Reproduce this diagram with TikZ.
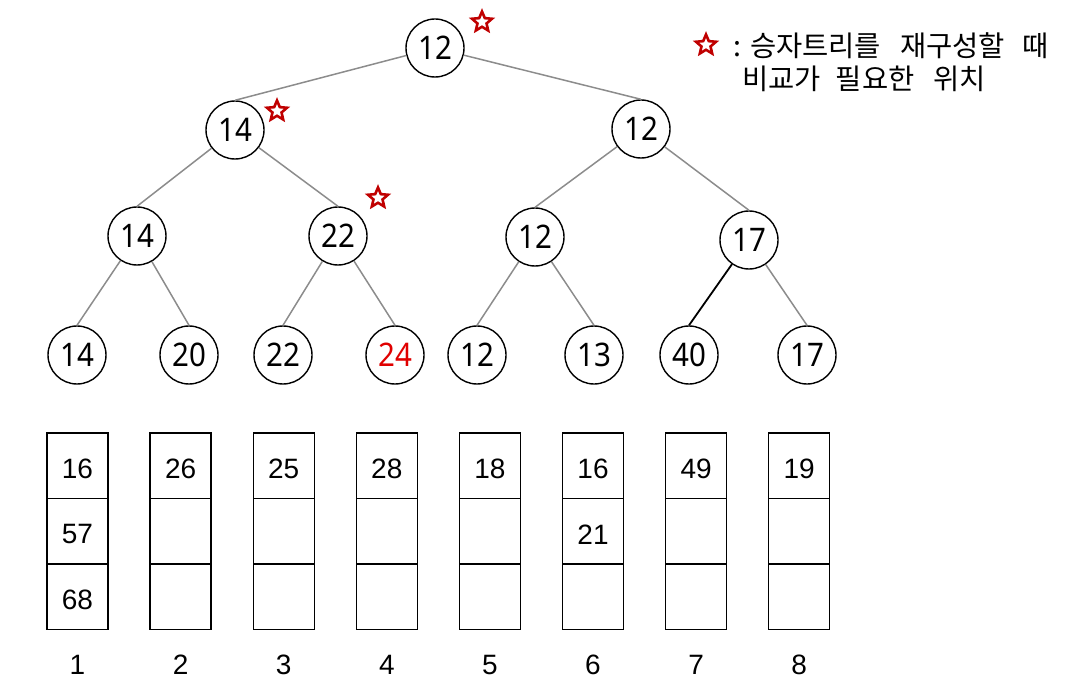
\documentclass[tikz,border=0pt]{standalone}
\usepackage{fontspec}
\usepackage{graphicx}
\usetikzlibrary{shapes.geometric}
\newfontfamily\circfont{Noto Sans}
\newfontfamily\boxfont{Liberation Sans}
\newfontfamily\krfont{Noto Sans CJK KR}
\definecolor{edgegray}{HTML}{8C8C8C}
\definecolor{starred}{HTML}{C00000}
\definecolor{numred}{HTML}{E00000}
\newcommand{\tallnum}[1]{\scalebox{1}[1.1]{#1}}
\begin{document}
\begin{tikzpicture}[x=1pt,y=-1pt,
  tnode/.style={circle,draw=black,line width=1.4pt,minimum size=58pt,inner sep=0pt,
    font=\circfont\fontsize{29.5}{30}\selectfont},
  tedge/.style={draw=edgegray,line width=1.5pt},
  dedge/.style={draw=black,line width=1.8pt},
  mark star/.style={star,star points=5,star point ratio=2.2,draw=starred,fill=white,
    line width=2.6pt,minimum size=21pt,inner sep=0pt},
  cell/.style={draw=black,line width=1.3pt,minimum width=61pt,minimum height=65.5pt,inner sep=0pt,
    font=\boxfont\fontsize{28}{29}\selectfont},
  celltext/.style={inner sep=0pt,font=\boxfont\fontsize{28}{29}\selectfont},
  idx/.style={font=\boxfont\fontsize{28}{29}\selectfont},
  legend/.style={anchor=west,inner sep=0pt,font=\krfont\fontsize{28.5}{30}\selectfont}]
\useasboundingbox (0,0) rectangle (1072,690);
% tree nodes
\node[tnode] (r) at (435,48) {\tallnum{12}};
\node[tnode] (a) at (235,130) {\tallnum{14}};
\node[tnode] (b) at (641,129) {\tallnum{12}};
\node[tnode] (c) at (137,236) {\tallnum{14}};
\node[tnode] (d) at (338,236) {\tallnum{22}};
\node[tnode] (e) at (535,237) {\tallnum{12}};
\node[tnode] (f) at (749,240) {\tallnum{17}};
\node[tnode] (l1) at (77,355) {\tallnum{14}};
\node[tnode] (l2) at (189,355) {\tallnum{20}};
\node[tnode] (l3) at (283,355) {\tallnum{22}};
\node[tnode,text=numred] (l4) at (395,355) {\tallnum{24}};
\node[tnode] (l5) at (477,355) {\tallnum{12}};
\node[tnode] (l6) at (594,355) {\tallnum{13}};
\node[tnode] (l7) at (689,355) {\tallnum{40}};
\node[tnode] (l8) at (807,355) {\tallnum{17}};
% edges
\draw[tedge] (r) -- (a.north);
\draw[tedge] (r) -- (b.north);
\draw[tedge] (a) -- (c.north);
\draw[tedge] (a) -- (d.north);
\draw[tedge] (b) -- (e.north);
\draw[tedge] (b) -- (f.north);
\draw[tedge] (c) -- (l1.north);
\draw[tedge] (c) -- (l2.north);
\draw[tedge] (d) -- (l3.north);
\draw[tedge] (d) -- (l4.north);
\draw[tedge] (e) -- (l5.north);
\draw[tedge] (e) -- (l6.north);
\draw[dedge] (f) -- (l7.north);
\draw[tedge] (f) -- (l8.north);
% stars
\node[mark star] (s1) at (482,22) {};
\node[mark star] (s2) at (277,111) {};
\node[mark star] (s3) at (378,198) {};
% legend
\node[mark star] (s0) at (706,45) {};
\node[legend] (leg1) at (733,46) {:\hspace{9pt}승자트리를\hspace{19pt}재구성할\hspace{17pt}때};
\node[legend] (leg2) at (742,79) {비교가\hspace{15pt}필요한\hspace{19pt}위치};
% buckets
\foreach \i/\ta/\tb/\tc in {1/16/57/68,2/26//,3/25//,4/28//,5/18//,6/16/21/,7/49//,8/19//}{
  \pgfmathsetmacro{\cx}{77.5+103.1*(\i-1)}
  \node[cell] (b\i a) at (\cx,465.75) {};
  \node[cell] (b\i b) at (\cx,531.25) {};
  \node[cell] (b\i c) at (\cx,596.75) {};
  \node[celltext] at ([yshift=-3pt]b\i a.center) {\ta};
  \node[celltext] at ([yshift=-3pt]b\i b.center) {\tb};
  \node[celltext] at ([yshift=-3pt]b\i c.center) {\tc};
  \node[idx] (n\i) at (\cx,665) {\i};
}
\end{tikzpicture}
\end{document}
